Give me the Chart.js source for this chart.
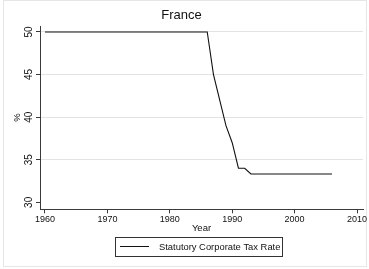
<!DOCTYPE html>
<html>
<head>
<meta charset="utf-8">
<script src="https://cdn.jsdelivr.net/npm/chart.js@4.4.1/dist/chart.umd.min.js"></script>
<style>
  html, body { margin: 0; padding: 0; background: #fff; }
  #wrap { width: 369px; height: 269px; position: relative; }
</style>
</head>
<body>
<div id="wrap"><canvas id="myChart" width="369" height="269"></canvas></div>
<script>
// France, statutory corporate tax rate (%)
const years = [1960, 1961, 1962, 1963, 1964, 1965, 1966, 1967, 1968, 1969,
  1970, 1971, 1972, 1973, 1974, 1975, 1976, 1977, 1978, 1979,
  1980, 1981, 1982, 1983, 1984, 1985, 1986, 1987, 1988, 1989,
  1990, 1991, 1992, 1993, 1994, 1995, 1996, 1997, 1998, 1999,
  2000, 2001, 2002, 2003, 2004, 2005, 2006];
const taxRate = [50, 50, 50, 50, 50, 50, 50, 50, 50, 50,
  50, 50, 50, 50, 50, 50, 50, 50, 50, 50,
  50, 50, 50, 50, 50, 50, 50, 45, 42, 39,
  37, 34, 34, 33.33, 33.33, 33.33, 33.33, 33.33, 33.33, 33.33,
  33.33, 33.33, 33.33, 33.33, 33.33, 33.33, 33.33];
const xTicks = [1960, 1970, 1980, 1990, 2000, 2010];
const yTicks = [30, 35, 40, 45, 50];
const chartTitle = "France";
const seriesLabel = "Statutory Corporate Tax Rate";

const FONT = '"Liberation Sans", Arial, Helvetica, sans-serif';
const AXIS = '#3a3a3a';

//outer frame, rotated y labels and the boxed legend are drawn by hand
const extras = {
  id: 'extras',
  beforeDraw(chart) {
    const c = chart.ctx;
    c.save();
    c.strokeStyle = '#e6e6e6';
    c.lineWidth = 1;
    c.strokeRect(3.5, 0.5, 363, 266);
    c.restore();
  },
  afterDraw(chart) {
    const c = chart.ctx;
    const y = chart.scales.y;
    c.save();
    c.fillStyle = '#111';
    c.font = '10px ' + FONT;
    c.textAlign = 'center';
    c.textBaseline = 'middle';
    yTicks.forEach(v => {
      const py = y.getPixelForValue(v);
      c.save();
      c.translate(29.7, py);
      c.rotate(-Math.PI / 2);
      c.fillText(String(v), 0, 0);
      c.restore();
    });
    //legend
    c.strokeStyle = '#333';
    c.lineWidth = 1;
    c.strokeRect(115.5, 237.5, 167, 19);
    c.beginPath();
    c.moveTo(120, 246.5);
    c.lineTo(149, 246.5);
    c.strokeStyle = '#111';
    c.stroke();
    c.font = '9.4px ' + FONT;
    c.textAlign = 'left';
    c.fillText(seriesLabel, 159, 247);
    c.restore();
  }
};

const ctx = document.getElementById('myChart').getContext('2d');
new Chart(ctx, {
  type: 'line',
  data: {
    datasets: [{
      label: seriesLabel,
      data: years.map((yr, i) => ({ x: yr, y: taxRate[i] })),
      borderColor: '#111',
      borderWidth: 1.1,
      pointRadius: 0,
      tension: 0,
      fill: false
    }]
  },
  options: {
    responsive: false,
    animation: false,
    events: [],
    layout: { padding: { top: 0, left: 0, right: 6, bottom: 35 } },
    plugins: {
      legend: { display: false },
      tooltip: { enabled: false },
      title: {
        display: true,
        text: chartTitle,
        color: '#111',
        font: { family: FONT, size: 13, weight: 'normal', lineHeight: 1.2 },
        padding: { top: 8, bottom: 2.4 }
      }
    },
    scales: {
      x: {
        type: 'linear',
        min: 1959.2,
        max: 2010.96,
        afterBuildTicks: s => { s.ticks = xTicks.map(v => ({ value: v })); },
        afterFit: s => { s.height = 24.7; s.paddingLeft = 0; s.paddingRight = 0; },
        ticks: {
          color: '#111',
          padding: 1,
          maxRotation: 0,
          font: { family: FONT, size: 9 },
          callback: v => String(v)
        },
        grid: { drawOnChartArea: false, tickLength: 4, tickColor: AXIS },
        border: { color: AXIS, width: 1 },
        title: {
          display: true, text: 'Year', color: '#111',
          font: { family: FONT, size: 9.5, lineHeight: 1.2 },
          padding: { top: 0, bottom: 0 }
        }
      },
      y: {
        min: 29.18,
        max: 50.7,
        afterBuildTicks: s => { s.ticks = yTicks.map(v => ({ value: v })); },
        afterFit: s => { s.width = 40; s.paddingTop = 0; s.paddingBottom = 0; },
        ticks: { color: 'rgba(0,0,0,0)', font: { family: FONT, size: 9 } },
        grid: {
          tickLength: 4,
          tickColor: AXIS,
          color: c => (c.tick && c.tick.value === 30) ? 'rgba(0,0,0,0)' : '#e3e3e3',
          lineWidth: 1
        },
        border: { color: AXIS, width: 1 },
        title: {
          display: true, text: '%', color: '#111',
          font: { family: FONT, size: 9.5, lineHeight: 1.2 },
          padding: { top: 11.8, bottom: 0 }
        }
      }
    }
  },
  plugins: [extras]
});
</script>
</body>
</html>
